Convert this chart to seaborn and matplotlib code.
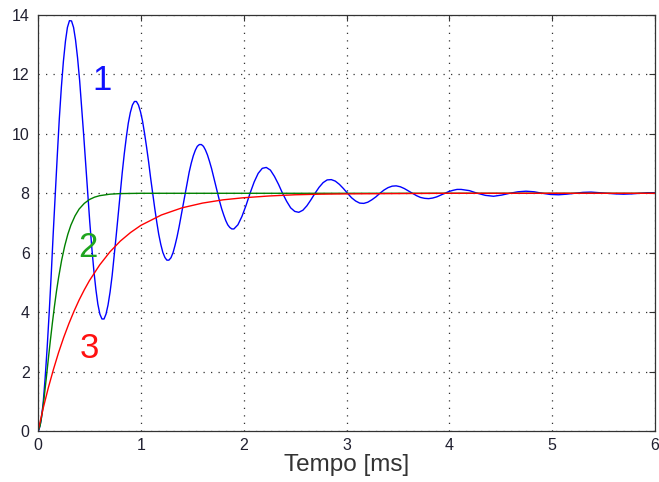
import matplotlib
matplotlib.use("Agg")
import matplotlib.pyplot as plt
import numpy as np
import pandas as pd
import seaborn as sns

# ---- data ----
# curve 1 (underdamped)
t1 = [0.000,
      0.010, 0.030, 0.050, 0.069, 0.089, 0.109, 0.129, 0.148,
      0.168, 0.188, 0.207, 0.227, 0.247, 0.267, 0.286, 0.306,
      0.326, 0.346, 0.365, 0.385, 0.405, 0.424, 0.444, 0.464,
      0.484, 0.503, 0.523, 0.543, 0.563, 0.582, 0.602, 0.622,
      0.642, 0.661, 0.681, 0.701, 0.721, 0.740, 0.760, 0.780,
      0.800, 0.819, 0.839, 0.859, 0.878, 0.898, 0.918, 0.938,
      0.957, 0.977, 0.997, 1.017, 1.036, 1.056, 1.076, 1.095,
      1.115, 1.135, 1.155, 1.174, 1.194, 1.214, 1.234, 1.253,
      1.273, 1.293, 1.313, 1.332, 1.352, 1.372, 1.391, 1.411,
      1.431, 1.451, 1.470, 1.490, 1.510, 1.530, 1.549, 1.569,
      1.589, 1.609, 1.628, 1.648, 1.668, 1.688, 1.707, 1.727,
      1.747, 1.766, 1.786, 1.806, 1.826, 1.845, 1.865, 1.885,
      1.905, 1.944, 1.983, 2.023, 2.062, 2.102, 2.141, 2.181,
      2.220, 2.260, 2.299, 2.339, 2.378, 2.418, 2.457, 2.497,
      2.536, 2.576, 2.615, 2.654, 2.694, 2.733, 2.773, 2.812,
      2.852, 2.891, 2.931, 2.970, 3.010, 3.049, 3.089, 3.128,
      3.168, 3.207, 3.246, 3.286, 3.325, 3.365, 3.404, 3.444,
      3.483, 3.523, 3.562, 3.602, 3.641, 3.681, 3.720, 3.760,
      3.799, 3.838, 3.878, 3.917, 3.957, 3.996, 4.036, 4.075,
      4.115, 4.194, 4.273, 4.351,
      4.430, 4.509, 4.588, 4.667,
      4.746, 4.825, 4.904, 4.983,
      5.062, 5.141, 5.220, 5.298,
      5.378, 5.457, 5.535, 5.614,
      5.693, 5.772, 5.851, 5.930,
      6.000]
y1 = [0.00,
      0.04, 0.35, 0.93, 1.76, 2.80, 3.99, 5.29, 6.65,
      8.00, 9.30, 10.50, 11.56, 12.44, 13.12, 13.58, 13.81,
      13.80, 13.58, 13.16, 12.55, 11.79, 10.92, 9.97, 8.99,
      8.00, 7.05, 6.18, 5.40, 4.76, 4.27, 3.93, 3.77,
      3.77, 3.93, 4.24, 4.68, 5.23, 5.87, 6.56, 7.28,
      8.00, 8.69, 9.33, 9.89, 10.36, 10.72, 10.97, 11.09,
      11.09, 10.97, 10.74, 10.42, 10.02, 9.55, 9.05, 8.52,
      8.00, 7.50, 7.03, 6.62, 6.28, 6.01, 5.84, 5.75,
      5.75, 5.83, 6.00, 6.24, 6.53, 6.87, 7.23, 7.62,
      8.00, 8.37, 8.71, 9.01, 9.26, 9.45, 9.58, 9.64,
      9.64, 9.58, 9.46, 9.29, 9.07, 8.83, 8.56, 8.28,
      8.00, 7.73, 7.48, 7.27, 7.08, 6.94, 6.85, 6.80,
      6.80, 6.94, 7.22, 7.59, 8.00, 8.38, 8.67, 8.84,
      8.87, 8.78, 8.57, 8.30, 8.00, 7.73, 7.51, 7.39,
      7.36, 7.43, 7.58, 7.78, 8.00, 8.20, 8.36, 8.45,
      8.46, 8.41, 8.30, 8.16, 8.00, 7.85, 7.74, 7.67,
      7.66, 7.70, 7.78, 7.88, 8.00, 8.11, 8.19, 8.24,
      8.25, 8.22, 8.16, 8.08, 8.00, 7.92, 7.86, 7.83,
      7.82, 7.84, 7.88, 7.94, 8.00, 8.06, 8.10, 8.13,
      8.13, 8.09, 8.00, 7.93,
      7.90, 7.94, 8.00, 8.05,
      8.07, 8.05, 8.00, 7.96,
      7.95, 7.97, 8.00, 8.03,
      8.04, 8.02, 8.00, 7.98,
      7.97, 7.98, 8.00, 8.02,
      8.02]

# curve 2 (fast, no overshoot)
t2 = [0.00, 0.02, 0.04, 0.06, 0.08, 0.10, 0.12, 0.14, 0.16, 0.18, 0.20,
      0.23, 0.26, 0.29, 0.32, 0.36, 0.40, 0.45, 0.50, 0.55, 0.60, 0.70,
      0.80, 1.00, 6.00]
y2 = [0.00, 0.17, 0.58, 1.14, 1.76, 2.41, 3.04, 3.64, 4.20, 4.71, 5.16,
      5.75, 6.23, 6.62, 6.93, 7.24, 7.47, 7.66, 7.79, 7.87, 7.92, 7.97,
      7.99, 8.00, 8.00]

# curve 3 (slow)
t3 = [0.00, 0.05, 0.10, 0.15, 0.20, 0.25, 0.30, 0.35, 0.40, 0.45, 0.50,
      0.60, 0.70, 0.80, 0.90, 1.00, 1.20, 1.40, 1.60, 1.80, 2.00, 2.25,
      2.50, 2.75, 3.00, 3.50, 4.00, 5.00, 6.00]
y3 = [0.00, 0.76, 1.45, 2.07, 2.64, 3.15, 3.61, 4.03, 4.41, 4.75, 5.06,
      5.59, 6.03, 6.39, 6.68, 6.92, 7.27, 7.51, 7.67, 7.78, 7.85, 7.91,
      7.95, 7.97, 7.98, 7.99, 8.00, 8.00, 8.00]

curve_names = ["1", "2", "3"]
curve_colors = ["#0000ff", "#008000", "#ff0000"]
label_colors = ["#1010ff", "#1fa51f", "#ff1010"]
label_x = [0.62, 0.49, 0.50]
label_y = [11.46, 5.87, 2.44]
x_ticks = [0, 1, 2, 3, 4, 5, 6]
y_ticks = [0, 2, 4, 6, 8, 10, 12, 14]
x_label = "Tempo [ms]"

# ---- plot ----
sns.set_theme(style="white")
plt.rcParams["font.family"] = ["Liberation Sans", "DejaVu Sans"]

df = pd.concat([
    pd.DataFrame({"t": t1, "v": y1, "curve": curve_names[0]}),
    pd.DataFrame({"t": t2, "v": y2, "curve": curve_names[1]}),
    pd.DataFrame({"t": t3, "v": y3, "curve": curve_names[2]}),
], ignore_index=True)

fig = plt.figure(figsize=(6.59, 4.82), dpi=100)
ax = fig.add_axes([38 / 659, 1 - 431 / 482, 617 / 659, 416 / 482])

sns.lineplot(data=df, x="t", y="v", hue="curve", hue_order=curve_names,
             palette=dict(zip(curve_names, curve_colors)), estimator=None,
             sort=False, legend=False, linewidth=1.0, ax=ax)

for name, c, lx, ly in zip(curve_names, label_colors, label_x, label_y):
    ax.text(lx, ly, name, color=c, fontsize=25, ha="center", va="baseline")

ax.set_xlim(0, 6)
ax.set_ylim(0, 14)
ax.set_xticks(x_ticks)
ax.set_yticks(y_ticks)
ax.grid(True, linestyle=(0, (1, 5)), color="#333333", linewidth=0.9)
ax.set_axisbelow(True)
for s in ax.spines.values():
    s.set_visible(True)
    s.set_color("#333333")
    s.set_linewidth(0.9)
ax.tick_params(direction="in", top=True, right=True, length=4.5, width=0.8,
               color="#333333", labelsize=11.5, labelcolor="#202030", pad=5)
ax.tick_params(axis="y", pad=6)
ax.set_xlabel(x_label, fontsize=17.5, color="#333333", labelpad=1)
ax.set_ylabel("")

fig.savefig("out.png", dpi=100)
